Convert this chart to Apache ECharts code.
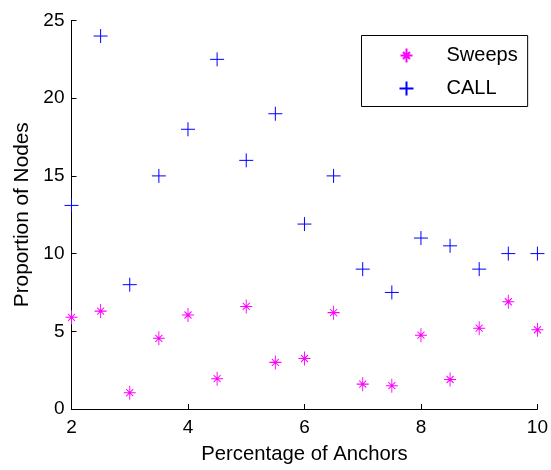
<!DOCTYPE html>
<html>
<head>
<meta charset="utf-8">
<script src="https://cdn.jsdelivr.net/npm/echarts@6/dist/echarts.min.js"></script>
<style>
html,body{margin:0;padding:0;background:#fff;}
#chart{width:551px;height:470px;}
</style>
</head>
<body>
<div id="chart"></div>
<script>
var anchors = [2, 2.5, 3, 3.5, 4, 4.5, 5, 5.5, 6, 6.5, 7, 7.5, 8, 8.5, 9, 9.5, 10];
var sweeps = [5.9, 6.3, 1.05, 4.55, 6.05, 1.95, 6.6, 3.0, 3.25, 6.2, 1.6, 1.5, 4.75, 1.9, 5.2, 6.9, 5.1];
var call = [13.1, 24.0, 8.0, 15.0, 18.0, 22.5, 16.0, 19.0, 11.9, 15.0, 9.0, 7.5, 11.0, 10.5, 9.0, 10.0, 10.0];
var seriesNames = ['Sweeps', 'CALL'];

var FONT = 'Liberation Sans, Arial, sans-serif';
var starPath = 'path://M6,0L6,14M0,7L12,7M2.5,3.5L9.5,10.5M2.5,10.5L9.5,3.5';
var plusPath = 'path://M7,0L7,14M0,7L14,7';

function pairs(xs, ys) {
  return xs.map(function (x, i) { return [x, ys[i]]; });
}

var chart = echarts.init(document.getElementById('chart'), null, {renderer: 'canvas'});
chart.setOption({
  animation: false,
  backgroundColor: '#fff',
  grid: {left: 71.5, right: 12, top: 20.5, bottom: 61, containLabel: false},
  legend: {
    orient: 'vertical',
    left: 361.5,
    top: 35.5,
    padding: [10, 10, 8, 37],
    itemGap: 13,
    itemWidth: 14,
    itemHeight: 14,
    borderColor: '#000',
    borderWidth: 1,
    selectedMode: false,
    data: seriesNames,
    textStyle: {fontFamily: FONT, fontSize: 20, color: '#000', padding: [0, 0, 0, 28]}
  },
  xAxis: {
    type: 'value',
    z: 0,
    min: 2, max: 10, interval: 2,
    name: 'Percentage of Anchors',
    nameLocation: 'middle',
    nameGap: 35,
    nameTextStyle: {fontFamily: FONT, fontSize: 20.3, color: '#000'},
    axisLine: {show: true, onZero: false, lineStyle: {color: '#000', width: 1}},
    axisTick: {show: true, inside: true, length: 5, lineStyle: {color: '#000'}},
    axisLabel: {fontFamily: FONT, fontSize: 19, color: '#000', margin: 9},
    splitLine: {show: false}
  },
  yAxis: {
    type: 'value',
    z: 0,
    min: 0, max: 25, interval: 5,
    name: 'Proportion of Nodes',
    nameLocation: 'middle',
    nameGap: 31,
    nameTextStyle: {fontFamily: FONT, fontSize: 20.8, color: '#000'},
    axisLine: {show: true, onZero: false, lineStyle: {color: '#000', width: 1}},
    axisTick: {show: true, inside: true, length: 5, lineStyle: {color: '#000'}},
    axisLabel: {fontFamily: FONT, fontSize: 19, color: '#000', margin: 7},
    splitLine: {show: false}
  },
  series: [
    {
      name: seriesNames[0],
      type: 'scatter',
      z: 10,
      clip: false,
      symbol: starPath,
      symbolSize: [12, 14],
      itemStyle: {color: '#ff00ff', borderColor: '#ff00ff', borderWidth: 1, opacity: 1},
      data: pairs(anchors, sweeps)
    },
    {
      name: seriesNames[1],
      type: 'scatter',
      z: 10,
      clip: false,
      symbol: plusPath,
      symbolSize: 14,
      itemStyle: {color: '#0000ff', borderColor: '#0000ff', borderWidth: 1, opacity: 1},
      data: pairs(anchors, call)
    }
  ]
});
</script>
</body>
</html>
